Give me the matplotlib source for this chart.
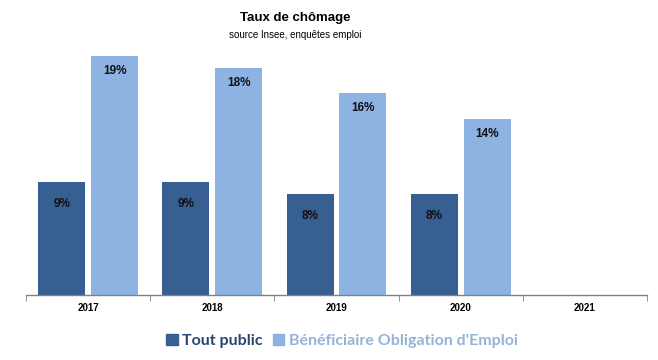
import matplotlib
matplotlib.use("Agg")
import matplotlib.pyplot as plt
from matplotlib.patches import Patch
import numpy as np

years = ["2017", "2018", "2019", "2020", "2021"]
tout_public = [9, 9, 8, 8, None]
boe = [19, 18, 16, 14, None]
series_names = ["Tout public", "Bénéficiaire Obligation d'Emploi"]
title = "Taux de chômage"
subtitle = "source Insee, enquêtes emploi"

dark = "#385F92"
light = "#8DB3E2"
dark_txt = "#2A4670"
light_txt = "#95B3D7"

fig = plt.figure(figsize=(6.58, 3.60), dpi=100)
ax = fig.add_axes([26/658, 1-295/360, (647-26)/658, 252/360])

x = np.arange(len(years))
w = 0.378
off = 0.213
for i in range(len(years)):
    if tout_public[i] is not None:
        ax.bar(x[i]-off, tout_public[i], w, color=dark, zorder=2)
        ax.annotate(f"{tout_public[i]}%", (x[i]-off, tout_public[i]), xytext=(0, -16),
                    textcoords="offset pixels", ha="center", va="top",
                    fontsize=8.5, fontweight="bold", color="#111111", family="Liberation Sans")
    if boe[i] is not None:
        ax.bar(x[i]+off, boe[i], w, color=light, zorder=2)
        ax.annotate(f"{boe[i]}%", (x[i]+off, boe[i]), xytext=(0, -9),
                    textcoords="offset pixels", ha="center", va="top",
                    fontsize=8.5, fontweight="bold", color="#111111", family="Liberation Sans")

ax.set_xlim(-0.5, len(years)-0.5)
ax.set_ylim(0, 20)
for s in ["top", "right", "left"]:
    ax.spines[s].set_visible(False)
ax.spines["bottom"].set_color("#808080")
ax.spines["bottom"].set_linewidth(1.0)
ax.set_yticks([])
ax.set_xticks(x)
ax.set_xticklabels(years, fontsize=7, fontweight="bold", family="Liberation Sans")
ax.tick_params(axis="x", which="major", length=0, pad=6)
ax.set_xticks(np.arange(-0.5, len(years)), minor=True)
ax.tick_params(axis="x", which="minor", length=4, color="#808080")

fig.text(295/658, 1-18/360, title, ha="center", va="center", fontsize=9.5,
         fontweight="bold", family="Liberation Sans")
fig.text(295/658, 1-35/360, subtitle, ha="center", va="center", fontsize=7,
         family="Liberation Sans")

handles = [Patch(color=dark), Patch(color=light)]
leg = fig.legend(handles, series_names, loc="center", bbox_to_anchor=(342/658, 1-341/360),
                 ncol=2, frameon=False, handlelength=0.7, handleheight=0.7,
                 handletextpad=0.3, columnspacing=0.6,
                 prop={"family": "Lato", "weight": "bold", "size": 11.5},
                 labelcolor=[dark_txt, light_txt])

fig.savefig("out.png", dpi=100)
